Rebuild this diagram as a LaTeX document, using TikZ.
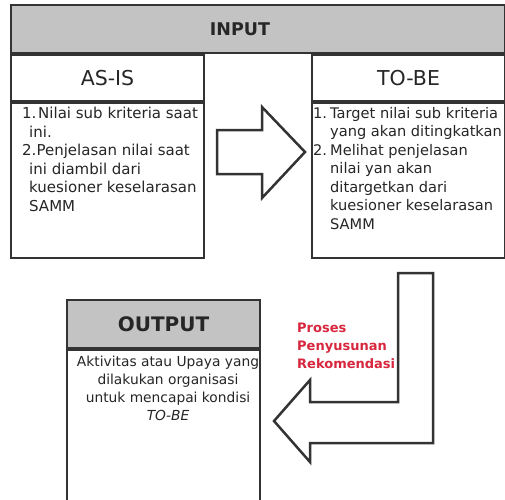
\documentclass[tikz,border=0pt]{standalone}
\usepackage{fontspec}
\setmainfont{DejaVu Sans}
\usetikzlibrary{positioning}
\definecolor{headgray}{HTML}{C3C3C3}
\definecolor{framegray}{HTML}{333333}
\definecolor{prosesred}{HTML}{D7263D}

\begin{document}
\begin{tikzpicture}[x=1pt, y=-1pt,
        frame/.style={draw=framegray, line width=2pt, rectangle, inner sep=0pt},
        head/.style={frame, fill=headgray, minimum width=193pt, minimum height=48pt},
        sub/.style={frame, fill=white, minimum width=193pt, minimum height=46pt, font=\fontsize{20.5}{24}\selectfont, text=black!85},
        body/.style={frame, fill=white, minimum width=193pt, minimum height=155pt},
        title/.style={inner sep=0pt, font=\fontsize{17.5}{20}\selectfont\bfseries, text=black!85},
        txt/.style={inner sep=0pt, align=left, font=\fontsize{15}{18.5}\selectfont, text=black!85},
        blockarrow/.style={draw=framegray, line width=2.5pt, fill=white, line join=miter}
    ]
        \useasboundingbox (0,0) rectangle (505,499);
        \clip (0,0) rectangle (505,499);

        % Input
        \node[head, minimum width=494pt, anchor=north west] (input) at (10,4) {};
        \node[title] (inputlbl) at ([xshift=-18pt]input.center) {INPUT};

        % As-is / to-be
        \node[sub, anchor=north west] (asis) at (input.south west) {AS-IS};
        \node[sub, anchor=north east] (tobe) at (input.south east) {TO-BE};
        \node[body, below=0pt of asis] (asisbody) {};
        \node[body, below=0pt of tobe] (tobebody) {};

        \node[txt, anchor=north west] (asistxt) at (22,107)
            {\makebox[16pt][l]{1.}Nilai sub kriteria saat\\
             \hspace*{7pt}ini.\\
             2.Penjelasan nilai saat\\
             \hspace*{7pt}ini diambil dari\\
             \hspace*{7pt}kuesioner keselarasan\\
             \hspace*{7pt}SAMM};
        \node[txt, anchor=north west, font=\fontsize{14.6}{18.5}\selectfont] (tobetxt) at (313,107)
            {\makebox[17pt][l]{1.}Target nilai sub kriteria\\
             \hspace*{17pt}yang akan ditingkatkan\\
             \makebox[17pt][l]{2.}Melihat penjelasan\\
             \hspace*{17pt}nilai yan akan\\
             \hspace*{17pt}ditargetkan dari\\
             \hspace*{17pt}kuesioner keselarasan\\
             \hspace*{17pt}SAMM};

        % Panah ke kanan
        \draw[blockarrow] (217,130) -- (262,130) -- (262,107) -- (305,152)
            -- (262,198) -- (262,174) -- (217,174) -- cycle;

        % Output
        \node[head, anchor=north west] (output) at (66,299) {};
        \node[title, font=\fontsize{20}{24}\selectfont\bfseries] (outputlbl) at (output.center) {OUTPUT};
        \node[body, minimum height=200pt, below=0pt of output] (outputbody) {};
        \node[txt, align=center, anchor=north, font=\fontsize{13.8}{18}\selectfont] (outputtxt) at (168,356)
            {Aktivitas atau Upaya yang\\
             dilakukan organisasi\\
             untuk mencapai kondisi\\
             \textit{TO-BE}};

        % Panah proses
        \draw[blockarrow] (398,273) -- (433,273) -- (433,443) -- (310,443) -- (310,462)
            -- (274,421) -- (310,380) -- (310,402) -- (398,402) -- cycle;
        \node[txt, anchor=north west, text=prosesred, font=\fontsize{13}{18}\selectfont\bfseries] (proses) at (297,323)
            {Proses\\ Penyusunan\\ Rekomendasi};
    \end{tikzpicture}
\end{document}
